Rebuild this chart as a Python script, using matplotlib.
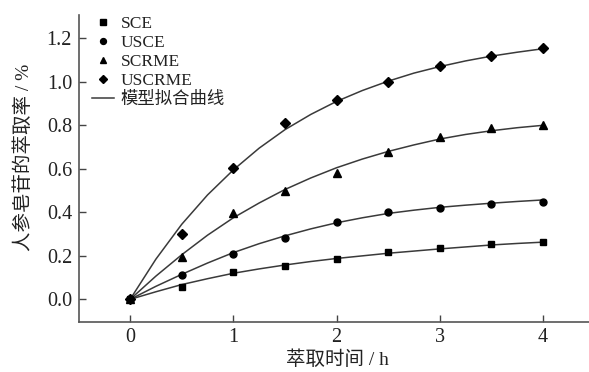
import numpy as np
import matplotlib
matplotlib.use('Agg')
import matplotlib.pyplot as plt
from matplotlib.lines import Line2D

plt.rcParams['font.family'] = ['Liberation Serif', 'Noto Sans CJK SC']

# measured points
t_pts  = [0, 0.5, 1, 1.5, 2, 2.5, 3, 3.5, 4]
sce    = [0, 0.058, 0.127, 0.155, 0.185, 0.219, 0.234, 0.253, 0.265]
usce   = [0, 0.112, 0.207, 0.283, 0.357, 0.402, 0.420, 0.437, 0.446]
scrme  = [0, 0.193, 0.395, 0.498, 0.582, 0.679, 0.745, 0.787, 0.801]
uscrme = [0, 0.299, 0.602, 0.809, 0.916, 1.000, 1.074, 1.120, 1.154]

# fitted curves, every 0.25 h
t_fit      = [0, 0.25, 0.5, 0.75, 1, 1.25, 1.5, 1.75, 2, 2.25, 2.5, 2.75, 3, 3.25, 3.5, 3.75, 4]
fit_sce    = [0, 0.035, 0.068, 0.095, 0.12, 0.14, 0.158, 0.174, 0.188, 0.2, 0.212, 0.222, 0.232, 0.241, 0.25, 0.257, 0.263]
fit_usce   = [0, 0.06, 0.115, 0.167, 0.215, 0.256, 0.292, 0.324, 0.352, 0.375, 0.395, 0.41, 0.423, 0.433, 0.442, 0.45, 0.457]
fit_scrme  = [0, 0.107, 0.205, 0.295, 0.375, 0.443, 0.505, 0.558, 0.605, 0.645, 0.68, 0.71, 0.737, 0.758, 0.775, 0.789, 0.80]
fit_uscrme = [0, 0.185, 0.345, 0.48, 0.595, 0.695, 0.78, 0.85, 0.91, 0.96, 1.003, 1.04, 1.07, 1.096, 1.118, 1.136, 1.152]

labels  = ['SCE', 'USCE', 'SCRME', 'USCRME']
markers = ['s', 'o', '^', 'D']
msizes  = [5, 5, 5.5, 5]

ink = '#222222'
fig = plt.figure(figsize=(5.89, 3.72), dpi=100)
ax = fig.add_axes([79/589, 1 - 322/372, 1 - 79/589, (322 - 15)/372])

for fy in [fit_sce, fit_usce, fit_scrme, fit_uscrme]:
    ax.plot(t_fit, fy, color='#3a3a3a', lw=1.1, zorder=2)
for y, m, ms in zip([sce, usce, scrme, uscrme], markers, msizes):
    ax.plot(t_pts, y, ls='none', marker=m, ms=ms, color='black', zorder=3)

ax.set_xlim(-0.495, 4.445)
ax.set_ylim(-0.104, 1.307)
ax.set_xticks([0, 1, 2, 3, 4])
ax.set_yticks([0.0, 0.2, 0.4, 0.6, 0.8, 1.0, 1.2])
ax.set_yticklabels([f'{v:.1f}' for v in [0.0, 0.2, 0.4, 0.6, 0.8, 1.0, 1.2]])
ax.tick_params(direction='in', length=5, width=1, colors='#444444',
               labelcolor=ink, labelsize=14.5, pad=5)
ax.tick_params(axis='x', pad=4)
for s in ['top', 'right']:
    ax.spines[s].set_visible(False)
for s in ['left', 'bottom']:
    ax.spines[s].set_color('#555555')
    ax.spines[s].set_linewidth(1.2)

ax.set_xlabel('萃取时间 / h', fontsize=14, color=ink)
ax.set_ylabel('人参皂苷的萃取率 / %', fontsize=14, color=ink)
ax.xaxis.set_label_coords(0.506, -0.093)
ax.yaxis.set_label_coords(-0.09, 0.537)

handles = [Line2D([], [], ls='none', marker=m, ms=ms * 0.85, color='black')
           for m, ms in zip(markers, msizes)]
handles.append(Line2D([], [], color='#3a3a3a', lw=1.1))
ax.legend(handles, labels + ['模型拟合曲线'], loc='upper left',
          bbox_to_anchor=(0.0255, 0.996), frameon=False, fontsize=12.5,
          handlelength=1.25, handletextpad=0.4, labelspacing=0.16,
          borderaxespad=0, borderpad=0, labelcolor=ink)

fig.savefig('out.png', dpi=100)
